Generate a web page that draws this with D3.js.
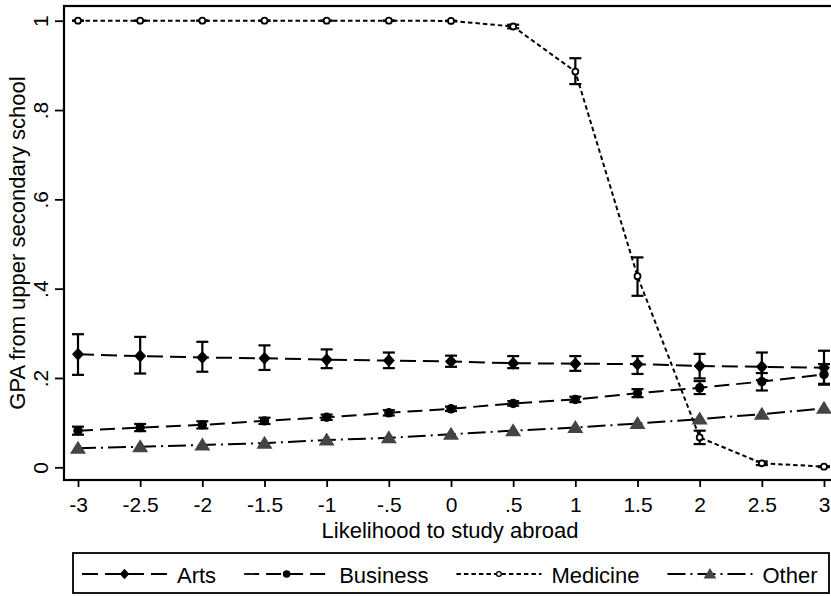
<!DOCTYPE html>
<html>
<head>
<meta charset="utf-8">
<script src="https://cdn.jsdelivr.net/npm/d3@7"></script>
<style>
    body { margin: 0; background: #fff; }
    svg { display: block; font-family: "Liberation Sans", Arial, sans-serif; }
</style>
</head>
<body>
<div id="chart"></div>
<script>
// x positions (likelihood to study abroad) and tick labels
const xValues = [-3, -2.5, -2, -1.5, -1, -0.5, 0, 0.5, 1, 1.5, 2, 2.5, 3];
const xTickLabels = ["-3", "-2.5", "-2", "-1.5", "-1", "-.5", "0", ".5", "1", "1.5", "2", "2.5", "3"];
const yTicks = [0, 0.2, 0.4, 0.6, 0.8, 1];
const yTickLabels = ["0", ".2", ".4", ".6", ".8", "1"];

const seriesNames = ["Arts", "Business", "Medicine", "Other"];

const artsMean = [0.253, 0.249, 0.246, 0.244, 0.241, 0.239, 0.237, 0.233, 0.232, 0.231, 0.227, 0.225, 0.223];
const artsLow  = [0.207, 0.210, 0.214, 0.218, 0.222, 0.222, 0.225, 0.222, 0.216, 0.209, 0.199, 0.195, 0.187];
const artsHigh = [0.298, 0.292, 0.281, 0.273, 0.264, 0.257, 0.250, 0.249, 0.249, 0.249, 0.254, 0.257, 0.261];

const businessMean = [0.082, 0.089, 0.095, 0.104, 0.112, 0.122, 0.131, 0.143, 0.152, 0.166, 0.178, 0.192, 0.208];
const businessLow  = [0.073, 0.081, 0.087, 0.097, 0.106, 0.116, 0.126, 0.138, 0.146, 0.157, 0.164, 0.172, 0.185];
const businessHigh = [0.091, 0.097, 0.103, 0.111, 0.118, 0.128, 0.136, 0.148, 0.158, 0.175, 0.193, 0.211, 0.231];

const medicineMean = [1, 1, 1, 1, 1, 1, 0.9995, 0.987, 0.886, 0.428, 0.067, 0.009, 0.0015];
const medicineLow  = [1, 1, 1, 1, 1, 1, 0.999, 0.983, 0.858, 0.384, 0.052, 0.005, 0.0005];
const medicineHigh = [1, 1, 1, 1, 1, 1, 1, 0.991, 0.916, 0.470, 0.082, 0.013, 0.0025];

const otherMean = [0.0425, 0.046, 0.050, 0.054, 0.061, 0.066, 0.074, 0.082, 0.089, 0.098, 0.108, 0.119, 0.132];

const width = 831, height = 596;
const plot = {left: 64, top: 6, right: 838, bottom: 480};
const fontSize = 22;
const tickFontSize = 21;

const xScale = d3.scaleLinear().domain([-3, 3]).range([78, 824]);
const yScale = d3.scaleLinear().domain([0, 1]).range([467.3, 20.7]);

const markers = {
    diamond: "M0,-6.5L6,0L0,6.5L-6,0Z",
    circle: d3.symbol(d3.symbolCircle, 70)(),
    hollow: d3.symbol(d3.symbolCircle, 28)(),
    triangle: "M0,-7.5L8,5.5L-8,5.5Z"
};

const series = [
    {name: seriesNames[0], mean: artsMean, low: artsLow, high: artsHigh, dash: "16,7", marker: "diamond", fill: "#000", stroke: "none"},
    {name: seriesNames[1], mean: businessMean, low: businessLow, high: businessHigh, dash: "15,7", marker: "circle", fill: "#000", stroke: "none"},
    {name: seriesNames[2], mean: medicineMean, low: medicineLow, high: medicineHigh, dash: "4.5,3", marker: "hollow", fill: "#fff", stroke: "#000"},
    {name: seriesNames[3], mean: otherMean, low: null, high: null, dash: "18,5,2,5", marker: "triangle", fill: "#444", stroke: "none"}
];

const svg = d3.select("#chart").append("svg")
    .attr("width", width)
    .attr("height", height);

svg.append("rect").attr("width", width).attr("height", height).attr("fill", "#fff");

// axes
const xAxis = d3.axisBottom(xScale)
    .tickValues(xValues)
    .tickFormat((d, i) => xTickLabels[i])
    .tickSize(7)
    .tickSizeOuter(0);

const gX = svg.append("g")
    .attr("transform", `translate(0,${plot.bottom})`)
    .call(xAxis);
gX.select(".domain").remove();
gX.selectAll("line").attr("stroke", "#000").attr("stroke-width", 1.8);
gX.selectAll("text")
    .attr("fill", "#000")
    .attr("font-size", tickFontSize)
    .attr("dy", null)
    .attr("y", 32);

const yAxis = d3.axisLeft(yScale)
    .tickValues(yTicks)
    .tickFormat((d, i) => yTickLabels[i])
    .tickSize(9)
    .tickSizeOuter(0);

const gY = svg.append("g")
    .attr("transform", `translate(${plot.left},0)`)
    .call(yAxis);
gY.select(".domain").remove();
gY.selectAll("line").attr("stroke", "#000").attr("stroke-width", 1.8);
gY.selectAll("text")
    .attr("fill", "#000")
    .attr("font-size", tickFontSize)
    .attr("x", null).attr("dy", null)
    .attr("text-anchor", "middle")
    .attr("transform", "translate(-16,0) rotate(-90)");

// frame
svg.append("rect")
    .attr("x", plot.left)
    .attr("y", plot.top)
    .attr("width", plot.right - plot.left)
    .attr("height", plot.bottom - plot.top)
    .attr("fill", "none")
    .attr("stroke", "#000")
    .attr("stroke-width", 2.2);

// axis titles
svg.append("text")
    .attr("x", (plot.left + 836) / 2)
    .attr("y", 538)
    .attr("text-anchor", "middle")
    .attr("font-size", fontSize)
    .text("Likelihood to study abroad");

svg.append("text")
    .attr("transform", `translate(25,${(plot.top + plot.bottom) / 2}) rotate(-90)`)
    .attr("text-anchor", "middle")
    .attr("font-size", fontSize)
    .text("GPA from upper secondary school");

// series
const line = d3.line()
    .x((d, i) => xScale(xValues[i]))
    .y(d => yScale(d));

const gSeries = svg.append("g");

series.forEach(s => {
    const g = gSeries.append("g");

    g.append("path")
        .datum(s.mean)
        .attr("d", line)
        .attr("fill", "none")
        .attr("stroke", "#000")
        .attr("stroke-width", 2)
        .attr("stroke-dasharray", s.dash);

    if (s.low) {
        const bars = g.selectAll(".err")
            .data(xValues.map((x, i) => ({x: x, lo: s.low[i], hi: s.high[i]})))
            .enter().append("g")
            .attr("stroke", "#000")
            .attr("stroke-width", 2.2);
        bars.append("line")
            .attr("x1", d => xScale(d.x)).attr("x2", d => xScale(d.x))
            .attr("y1", d => yScale(d.lo)).attr("y2", d => yScale(d.hi));
        bars.append("line")
            .attr("x1", d => xScale(d.x) - 6).attr("x2", d => xScale(d.x) + 6)
            .attr("y1", d => yScale(d.lo)).attr("y2", d => yScale(d.lo));
        bars.append("line")
            .attr("x1", d => xScale(d.x) - 6).attr("x2", d => xScale(d.x) + 6)
            .attr("y1", d => yScale(d.hi)).attr("y2", d => yScale(d.hi));
    }

    g.selectAll(".pt")
        .data(s.mean)
        .enter().append("path")
        .attr("d", markers[s.marker])
        .attr("transform", (d, i) => `translate(${xScale(xValues[i])},${yScale(d)})`)
        .attr("fill", s.fill)
        .attr("stroke", s.stroke)
        .attr("stroke-width", 1.8);
});

// legend
const legend = svg.append("g");
legend.append("rect")
    .attr("x", 73).attr("y", 553)
    .attr("width", 756).attr("height", 40)
    .attr("fill", "#fff")
    .attr("stroke", "#000")
    .attr("stroke-width", 1.8);

const keyLength = 85;
let lx = 82;
const ly = 574;
series.forEach(s => {
    const item = legend.append("g");
    item.append("line")
        .attr("x1", lx).attr("x2", lx + keyLength)
        .attr("y1", ly).attr("y2", ly)
        .attr("stroke", "#000")
        .attr("stroke-width", 1.8)
        .attr("stroke-dasharray", s.dash);
    item.append("path")
        .attr("d", markers[s.marker])
        .attr("transform", `translate(${lx + keyLength / 2},${ly}) scale(0.8)`)
        .attr("fill", s.fill)
        .attr("stroke", s.stroke)
        .attr("stroke-width", 1.6);
    const label = item.append("text")
        .attr("x", lx + keyLength + 10)
        .attr("y", 583)
        .attr("font-size", fontSize)
        .text(s.name);
    lx += keyLength + 10 + label.node().getComputedTextLength() + 28;
});
</script>
</body>
</html>
